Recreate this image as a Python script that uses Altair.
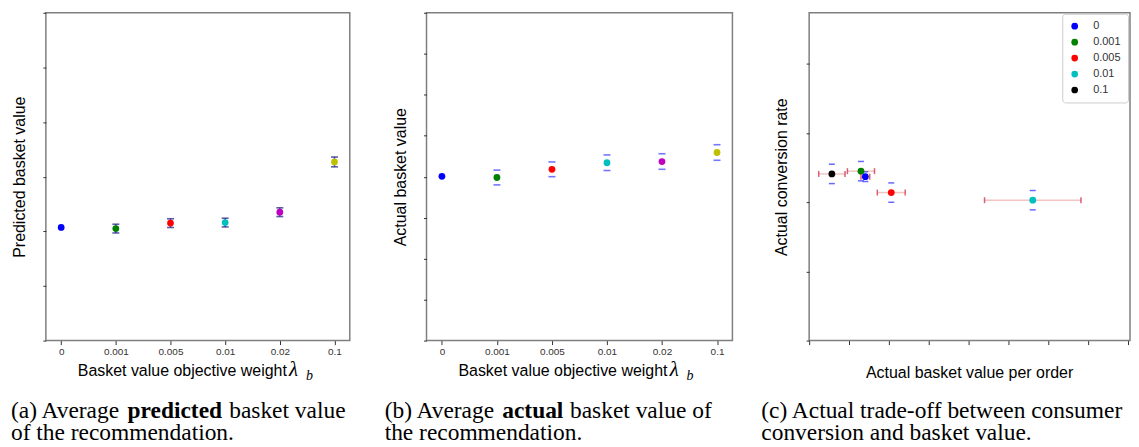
import altair as alt
import pandas as pd

# ---------------- data ----------------
lambdas = ["0", "0.001", "0.005", "0.01", "0.02", "0.1"]
colors_ab = ["#0000ff", "#008000", "#ff0000", "#00bfbf", "#bf00bf", "#bfbf00"]

pred_vals = [2.07, 2.05, 2.15, 2.16, 2.35, 3.27]
pred_err = [0.0, 0.08, 0.08, 0.08, 0.08, 0.09]

act_vals = [4.01, 3.98, 4.18, 4.34, 4.37, 4.59]
act_err = [0.0, 0.18, 0.18, 0.19, 0.19, 0.19]

c_lambdas = ["0.1", "0.001", "0.005", "0.01", "0"]
c_basket = [0.57, 1.30, 2.06, 5.61, 1.41]
c_basket_err = [0.33, 0.34, 0.35, 1.21, 0.11]
c_conv = [2.41, 2.45, 2.14, 2.03, 2.37]
c_conv_err = [0.14, 0.14, 0.14, 0.14, 0.07]
c_legend_order = ["0", "0.001", "0.005", "0.01", "0.1"]
c_colors = ["#0000ff", "#008000", "#ff0000", "#00bfbf", "#000000"]

x_title_ab = "Basket value objective weight"
x_title_c = "Actual basket value per order"
y_title_a = "Predicted basket value"
y_title_b = "Actual basket value"
y_title_c = "Actual conversion rate"

cap_a1 = ["(a) Average", "predicted", "basket value"]
cap_a2 = "of the recommendation."
cap_b1 = ["(b) Average", "actual", "basket value of"]
cap_b2 = "the recommendation."
cap_c1 = "(c) Actual trade-off between consumer"
cap_c2 = "conversion and basket value."

SANS = "Liberation Sans"
SERIF = "Liberation Serif"
H = 329
FRAME = alt.ViewBackground(stroke="#7f7f7f", strokeWidth=1.5, fill="white")
one = pd.DataFrame({"d": [0]})


def txt(s, x, y, size=16, font=SANS, align="left", weight="normal", style="normal", clip=False):
    return alt.Chart(one).mark_text(
        text=s, align=align, baseline="alphabetic", font=font, fontSize=size,
        fontWeight=weight, fontStyle=style, color="black", clip=clip,
    ).encode(x=alt.value(x), y=alt.value(y))


def spacer():
    # invisible rule fixing the left / bottom extent of each panel
    return alt.Chart(one).mark_rule(strokeOpacity=0, opacity=0).encode(
        x=alt.value(-37), y=alt.value(0), y2=alt.value(372))


def cat_panel(vals, errs, ytitle, ydomain, yticks, width, cap_color, show_bar):
    df = pd.DataFrame({
        "lam": lambdas, "v": vals, "e": errs,
        "lo": [v - e for v, e in zip(vals, errs)],
        "hi": [v + e for v, e in zip(vals, errs)],
    })
    xs = alt.Scale(type="point", domain=lambdas, padding=0.28)
    ys = alt.Scale(domain=ydomain, nice=False, zero=False)
    xaxis = alt.Axis(
        title=None, labelAngle=0, labelFont=SANS, labelFontSize=10, labelColor="#333",
        tickColor="#333", tickSize=4, labelPadding=2, domain=False, grid=False)
    yaxis = alt.Axis(
        title=ytitle, labels=False, values=yticks, tickSize=3, tickColor="#333",
        grid=False, domain=False, titleFont=SANS, titleFontSize=16,
        titleFontWeight="normal", titleColor="black", titleX=-26,
        titleAlign="center", titleBaseline="middle")
    X = alt.X("lam:O", scale=xs, axis=xaxis)

    def Y(f):
        return alt.Y(f + ":Q", scale=ys, axis=yaxis)

    base = alt.Chart(df).transform_filter("datum.e > 0")
    layers = [spacer()]
    if show_bar:
        layers.append(base.mark_rule(color="#5a5ad0", strokeWidth=1.5).encode(
            x=X, y=Y("lo"), y2="hi:Q"))
    for f in ["lo", "hi"]:
        layers.append(base.mark_tick(orient="horizontal", size=7, thickness=1.6,
                                     color=cap_color).encode(x=X, y=Y(f)))
    layers.append(alt.Chart(df).mark_circle(size=46, opacity=1).encode(
        x=X, y=Y("v"),
        color=alt.Color("lam:N", scale=alt.Scale(domain=lambdas, range=colors_ab),
                        legend=None)))
    layers.append(txt(x_title_ab, 32, 365))
    layers.append(txt("λ", 244, 365, size=21, font=SERIF, style="italic"))
    layers.append(txt("b", 261, 369, size=14, font=SERIF, style="italic"))
    return alt.layer(*layers).properties(width=width, height=H, view=FRAME)


pa = cat_panel(pred_vals, pred_err, y_title_a, [0, 6], [0, 1, 2, 3, 4, 5, 6], 305,
               "#1a1a80", True)
pb = cat_panel(act_vals, act_err, y_title_b, [0, 8], [0, 1, 2, 3, 4, 5, 6, 7, 8], 307,
               "#3a3aff", False)

# ---------------- panel c ----------------
dfc = pd.DataFrame({
    "lam": c_lambdas, "x": c_basket, "y": c_conv,
    "xlo": [a - b for a, b in zip(c_basket, c_basket_err)],
    "xhi": [a + b for a, b in zip(c_basket, c_basket_err)],
    "ylo": [a - b for a, b in zip(c_conv, c_conv_err)],
    "yhi": [a + b for a, b in zip(c_conv, c_conv_err)],
})
xsc = alt.Scale(domain=[0, 8.05], nice=False, zero=False)
ysc = alt.Scale(domain=[0, 4.74], nice=False, zero=False)
xc_axis = alt.Axis(title=None, labels=False, values=list(range(9)), tickSize=4,
                   tickColor="#333", grid=False, domain=False)
yc_axis = alt.Axis(
    title=y_title_c, labels=False, values=[0, 1, 2, 3, 4], tickSize=3, tickColor="#333",
    grid=False, domain=False, titleFont=SANS, titleFontSize=16, titleFontWeight="normal",
    titleColor="black", titleX=-28, titleAlign="center", titleBaseline="middle")


def XC(f):
    return alt.X(f + ":Q", scale=xsc, axis=xc_axis)


def YC(f):
    return alt.Y(f + ":Q", scale=ysc, axis=yc_axis)


basec = alt.Chart(dfc)
c_layers = [
    spacer(),
    basec.mark_rule(color="#f4c4c4", strokeWidth=1.5).encode(
        x=XC("xlo"), x2="xhi:Q", y=YC("y")),
]
for f in ["xlo", "xhi"]:
    c_layers.append(basec.mark_tick(orient="vertical", size=6, thickness=1.5,
                                    color="#c8203c").encode(x=XC(f), y=YC("y")))
for f in ["ylo", "yhi"]:
    c_layers.append(basec.mark_tick(orient="horizontal", size=6, thickness=1.5,
                                    color="#2a2aff").encode(x=XC("x"), y=YC(f)))
c_layers.append(basec.mark_circle(size=46, opacity=1).encode(
    x=XC("x"), y=YC("y"),
    color=alt.Color("lam:N", scale=alt.Scale(domain=c_legend_order, range=c_colors),
                    legend=alt.Legend(
                        title=None, orient="none", legendX=254, legendY=1,
                        strokeColor="#cccccc", fillColor="white", cornerRadius=3,
                        padding=7, symbolType="circle", symbolSize=45,
                        symbolStrokeWidth=0, labelFont=SANS, labelFontSize=11,
                        labelColor="#333", rowPadding=4, labelOffset=13))))
c_layers.append(txt(x_title_c, 161, 367, align="center"))
pc = alt.layer(*c_layers).properties(width=322, height=H, view=FRAME)

top = alt.hconcat(pa, pb, pc, spacing=38).resolve_scale(color="independent")

# ---------------- captions (origin = left edge of panel a's plot) ----------------
CS = 23.5
L1, L2 = 33, 55
cap_layers = [
    txt(cap_a1[0], -35, L1, size=CS, font=SERIF),
    txt(cap_a1[1], 82, L1, size=CS, font=SERIF, weight="bold"),
    txt(cap_a1[2], 184, L1, size=CS, font=SERIF),
    txt(cap_a2, -35, L2, size=CS, font=SERIF),
    txt(cap_b1[0], 340, L1, size=CS, font=SERIF),
    txt(cap_b1[1], 458, L1, size=CS, font=SERIF, weight="bold"),
    txt(cap_b1[2], 526, L1, size=CS, font=SERIF),
    txt(cap_b2, 340, L2, size=CS, font=SERIF),
    txt(cap_c1, 718, L1, size=CS, font=SERIF, clip=True),
    txt(cap_c2, 718, L2, size=CS, font=SERIF, clip=True),
]
captions = alt.layer(*cap_layers).properties(
    width=1086, height=56, view=alt.ViewBackground(stroke="transparent"))

chart = alt.vconcat(top, captions, spacing=1).properties(
    padding={"left": 0, "top": 2, "right": 0, "bottom": 0},
    background="white",
).configure_view(strokeWidth=0)

chart.save("out.html", embed_options={"renderer": "svg", "actions": False})
